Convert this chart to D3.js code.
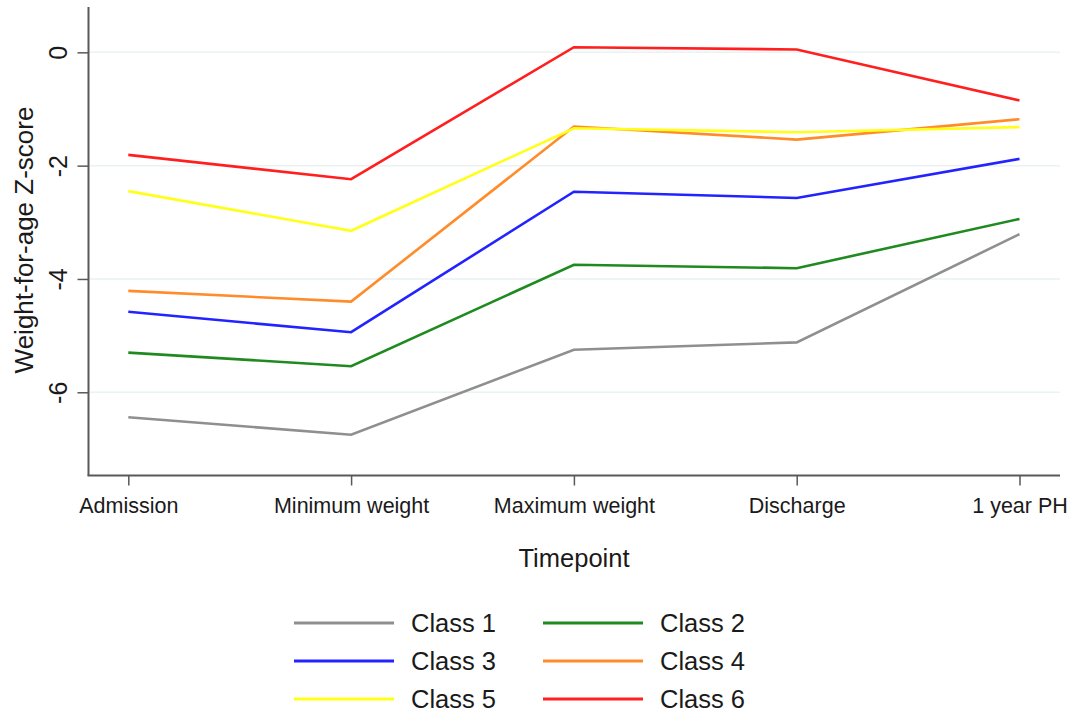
<!DOCTYPE html>
<html>
<head>
<meta charset="utf-8">
<script src="https://cdn.jsdelivr.net/npm/d3@7"></script>
<style>
  html, body { margin: 0; padding: 0; background: #fff; }
  svg text { font-family: "Liberation Sans", Arial, sans-serif; fill: #1a1a1a; }
</style>
</head>
<body>
<svg id="chart" width="1075" height="715"></svg>
<script>
const timepoints = ["Admission", "Minimum weight", "Maximum weight", "Discharge", "1 year PH"];
const classNames = ["Class 1", "Class 2", "Class 3", "Class 4", "Class 5", "Class 6"];
const class1 = [-6.44, -6.75, -5.25, -5.12, -3.21];
const class2 = [-5.30, -5.54, -3.75, -3.81, -2.94];
const class3 = [-4.58, -4.94, -2.46, -2.57, -1.88];
const class4 = [-4.21, -4.40, -1.31, -1.54, -1.18];
const class5 = [-2.45, -3.15, -1.34, -1.41, -1.32];
const class6 = [-1.81, -2.24, 0.09, 0.05, -0.85];
const yTicks = [0, -2, -4, -6];
const yTickLabels = ["0", "-2", "-4", "-6"];
const colors = ["#8f8f8f", "#1f8a1f", "#2323ff", "#ff8c2a", "#ffff1a", "#ff1f1f"];

const seriesValues = [class1, class2, class3, class4, class5, class6];

const svg = d3.select("#chart");

const x = d3.scalePoint().domain(timepoints).range([128.3, 1019.5]);
const y = d3.scaleLinear().domain([-7.46, 0.8]).range([475, 7]);

const axisLeftX = 88.5, axisRightX = 1060, axisBottomY = 475.5;

// gridlines
svg.append("g").selectAll("line").data(yTicks).join("line")
  .attr("x1", axisLeftX + 1).attr("x2", axisRightX)
  .attr("y1", d => y(d)).attr("y2", d => y(d))
  .attr("stroke", "#eaf2f3").attr("stroke-width", 1.5);

// y axis
const yAxis = svg.append("g").attr("transform", `translate(${axisLeftX},0)`)
  .call(d3.axisLeft(y).tickValues(yTicks).tickSize(11).tickSizeOuter(0)
    .tickFormat((d, i) => yTickLabels[i]));
yAxis.select(".domain").attr("stroke", "#595959").attr("stroke-width", 2)
  .attr("d", `M0,7V${axisBottomY}`);
yAxis.selectAll(".tick line").attr("stroke", "#595959").attr("stroke-width", 1.5);
yAxis.selectAll(".tick text")
  .attr("x", null).attr("dy", null)
  .attr("transform", "translate(-31,0) rotate(-90)")
  .attr("text-anchor", "middle").attr("dominant-baseline", "central")
  .style("font-size", "25px").attr("fill", "#1a1a1a");

// x axis
const xAxis = svg.append("g").attr("transform", `translate(0,${axisBottomY})`)
  .call(d3.axisBottom(x).tickSize(10).tickSizeOuter(0));
xAxis.select(".domain").attr("stroke", "#595959").attr("stroke-width", 2)
  .attr("d", `M${axisLeftX - 1},0H${axisRightX}`);
xAxis.selectAll(".tick line").attr("stroke", "#595959").attr("stroke-width", 1.5);
xAxis.selectAll(".tick text").attr("y", 30).attr("dy", "0.35em")
  .style("font-size", "21.5px").attr("fill", "#1a1a1a");

// axis titles
svg.append("text").attr("transform", "translate(24,240) rotate(-90)")
  .attr("text-anchor", "middle").attr("dominant-baseline", "central")
  .style("font-size", "26px").text("Weight-for-age Z-score");
svg.append("text").attr("x", 574).attr("y", 558)
  .attr("text-anchor", "middle").attr("dominant-baseline", "central")
  .style("font-size", "25.5px").text("Timepoint");

// lines
const line = d3.line().x((d, i) => x(timepoints[i])).y(d => y(d));
svg.append("g").selectAll("path").data(seriesValues).join("path")
  .attr("d", d => line(d))
  .attr("fill", "none")
  .attr("stroke", (d, i) => colors[i])
  .attr("stroke-width", 2.6)
  .attr("stroke-linejoin", "miter");

// legend
const legendCols = [294, 543];
const legendRows = [623, 661, 699];
const lg = svg.append("g").selectAll("g").data(classNames).join("g")
  .attr("transform", (d, i) => `translate(${legendCols[i % 2]},${legendRows[Math.floor(i / 2)]})`);
lg.append("line").attr("x1", 0).attr("x2", 100).attr("y1", 0).attr("y2", 0)
  .attr("stroke", (d, i) => colors[i]).attr("stroke-width", 3);
lg.append("text").attr("x", 117).attr("y", 0).attr("dominant-baseline", "central")
  .style("font-size", "25.5px").text(d => d);
</script>
</body>
</html>
